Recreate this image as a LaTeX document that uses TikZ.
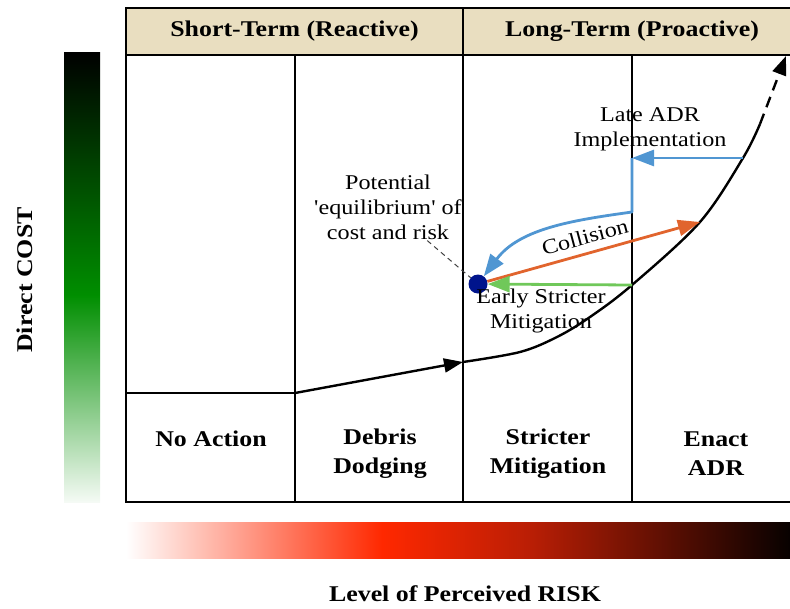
\documentclass[tikz,border=0pt]{standalone}
\usepackage{fontspec}
\setmainfont[FakeStretch=1.15]{Liberation Serif}
\usetikzlibrary{arrows.meta}
\definecolor{headfill}{RGB}{233,222,192}
\definecolor{costgreen}{RGB}{0,142,0}
\definecolor{riskred}{RGB}{255,40,0}
\definecolor{riskdark}{RGB}{185,30,5}
\definecolor{dotblue}{RGB}{0,20,140}
\definecolor{orangeA}{RGB}{225,100,45}
\definecolor{greenA}{RGB}{112,200,90}
\definecolor{blueA}{RGB}{80,150,210}
\pgfdeclarehorizontalshading{riskshade}{100bp}{color(0bp)=(white); color(25bp)=(white); color(44bp)=(riskred); color(55bp)=(riskdark); color(75bp)=(black); color(100bp)=(black)}
\pgfdeclareverticalshading{costshade}{100bp}{color(0bp)=(white!96!costgreen); color(25bp)=(white!96!costgreen); color(48bp)=(costgreen); color(75bp)=(black); color(100bp)=(black)}
\newcommand\sq{{\addfontfeatures{Ligatures=TeXOff}'}}
\tikzset{
  frame/.style={line width=1.3pt},
  boldlab/.style={font=\fontsize{22.5}{29}\selectfont\bfseries, align=center, inner sep=1pt},
  lab/.style={font=\fontsize{21}{25}\selectfont, align=center, inner sep=1pt},
  curve/.style={line width=2.4pt, line join=round},
  tipK/.style={-{Triangle[length=19pt,width=14pt]}},
  colarrow/.style={line width=2.8pt, -{Triangle[length=22pt,width=16pt]}},
}
\begin{document}
\begin{tikzpicture}[x=1pt,y=-1pt]
\useasboundingbox (0,0) rectangle (790,608);
\clip (0,0) rectangle (790,608);
% gradient bars
\shade[shading=costshade] (64,52) rectangle (100,502);
\shade[shading=riskshade] (126,522) rectangle (801,558);
% header
\draw[frame, fill=headfill] (126,8) rectangle (801,55);
\draw[frame] (463,8) -- (463,55);
% main box and columns
\draw[frame] (126,55) rectangle (801,502);
\foreach \x in {295,463,632} \draw[frame] (\x,55) -- (\x,502);
% header texts
\node[boldlab] (hs) at (294.5,31) {Short-Term (Reactive)};
\node[boldlab] (hl) at (632,31) {Long-Term (Proactive)};
% column labels
\node[boldlab] (c1) at (211,439) {No Action};
\node[boldlab] (c2) at (380,454) {Debris\\Dodging};
\node[boldlab] (c3) at (548,454) {Stricter\\Mitigation};
\node[boldlab] (c4) at (716,454) {Enact\\ADR};
% axis labels
\node[boldlab] (risk) at (465,594) {Level of Perceived RISK};
\node[boldlab, rotate=90] (cost) at (25,280) {Direct COST};
% main curve
\coordinate (p0) at (126,393);
\coordinate (p1) at (295,393);
\coordinate (p2) at (463,362);
\coordinate (p3) at (520,352);
\coordinate (p4) at (557,337);
\coordinate (p5) at (590,317);
\coordinate (p6) at (632,285);
\coordinate (p7) at (700,222);
\coordinate (p8) at (743,158);
\coordinate (p9) at (760,124);
\coordinate (p10) at (786,56);
\draw[curve] (p0) -- (p1);
\draw[curve, tipK] (p1) -- (p2);
\draw[curve] plot[smooth, tension=0.55] coordinates {(p2) (p3) (p4) (p5) (p6) (p7) (p8) (p9)};
\draw[curve, dash pattern=on 11pt off 7pt, tipK] (p9) -- (p10);
% equilibrium dot
\node[circle, fill=dotblue, minimum size=19pt, inner sep=0pt] (eq) at (478,284) {};
% potential label
\node[lab] (pot) at (388,207) {Potential\\\sq equilibrium\sq{} of\\cost and risk};
\draw[line width=1pt, black!75, dash pattern=on 5pt off 4pt] (pot) -- (eq);
% arrows
\draw[colarrow, orangeA] (eq) -- (p7);
\draw[colarrow, greenA] (p6) -- (eq);
\coordinate (bc) at (632,158);
\coordinate (bb) at (632,212);
\draw[colarrow, blueA] (p8) -- (bc);
\draw[colarrow, blueA, line join=round] (bc) -- (bb) .. controls (575,220) and (520,228) .. (eq);
% labels
\node[lab] (late) at (650,129) {Late ADR\\Implementation};
\node[lab, rotate=15] (coll) at (585,237) {Collision};
\node[lab] (early) at (541,311) {Early Stricter\\Mitigation};
\end{tikzpicture}
\end{document}
